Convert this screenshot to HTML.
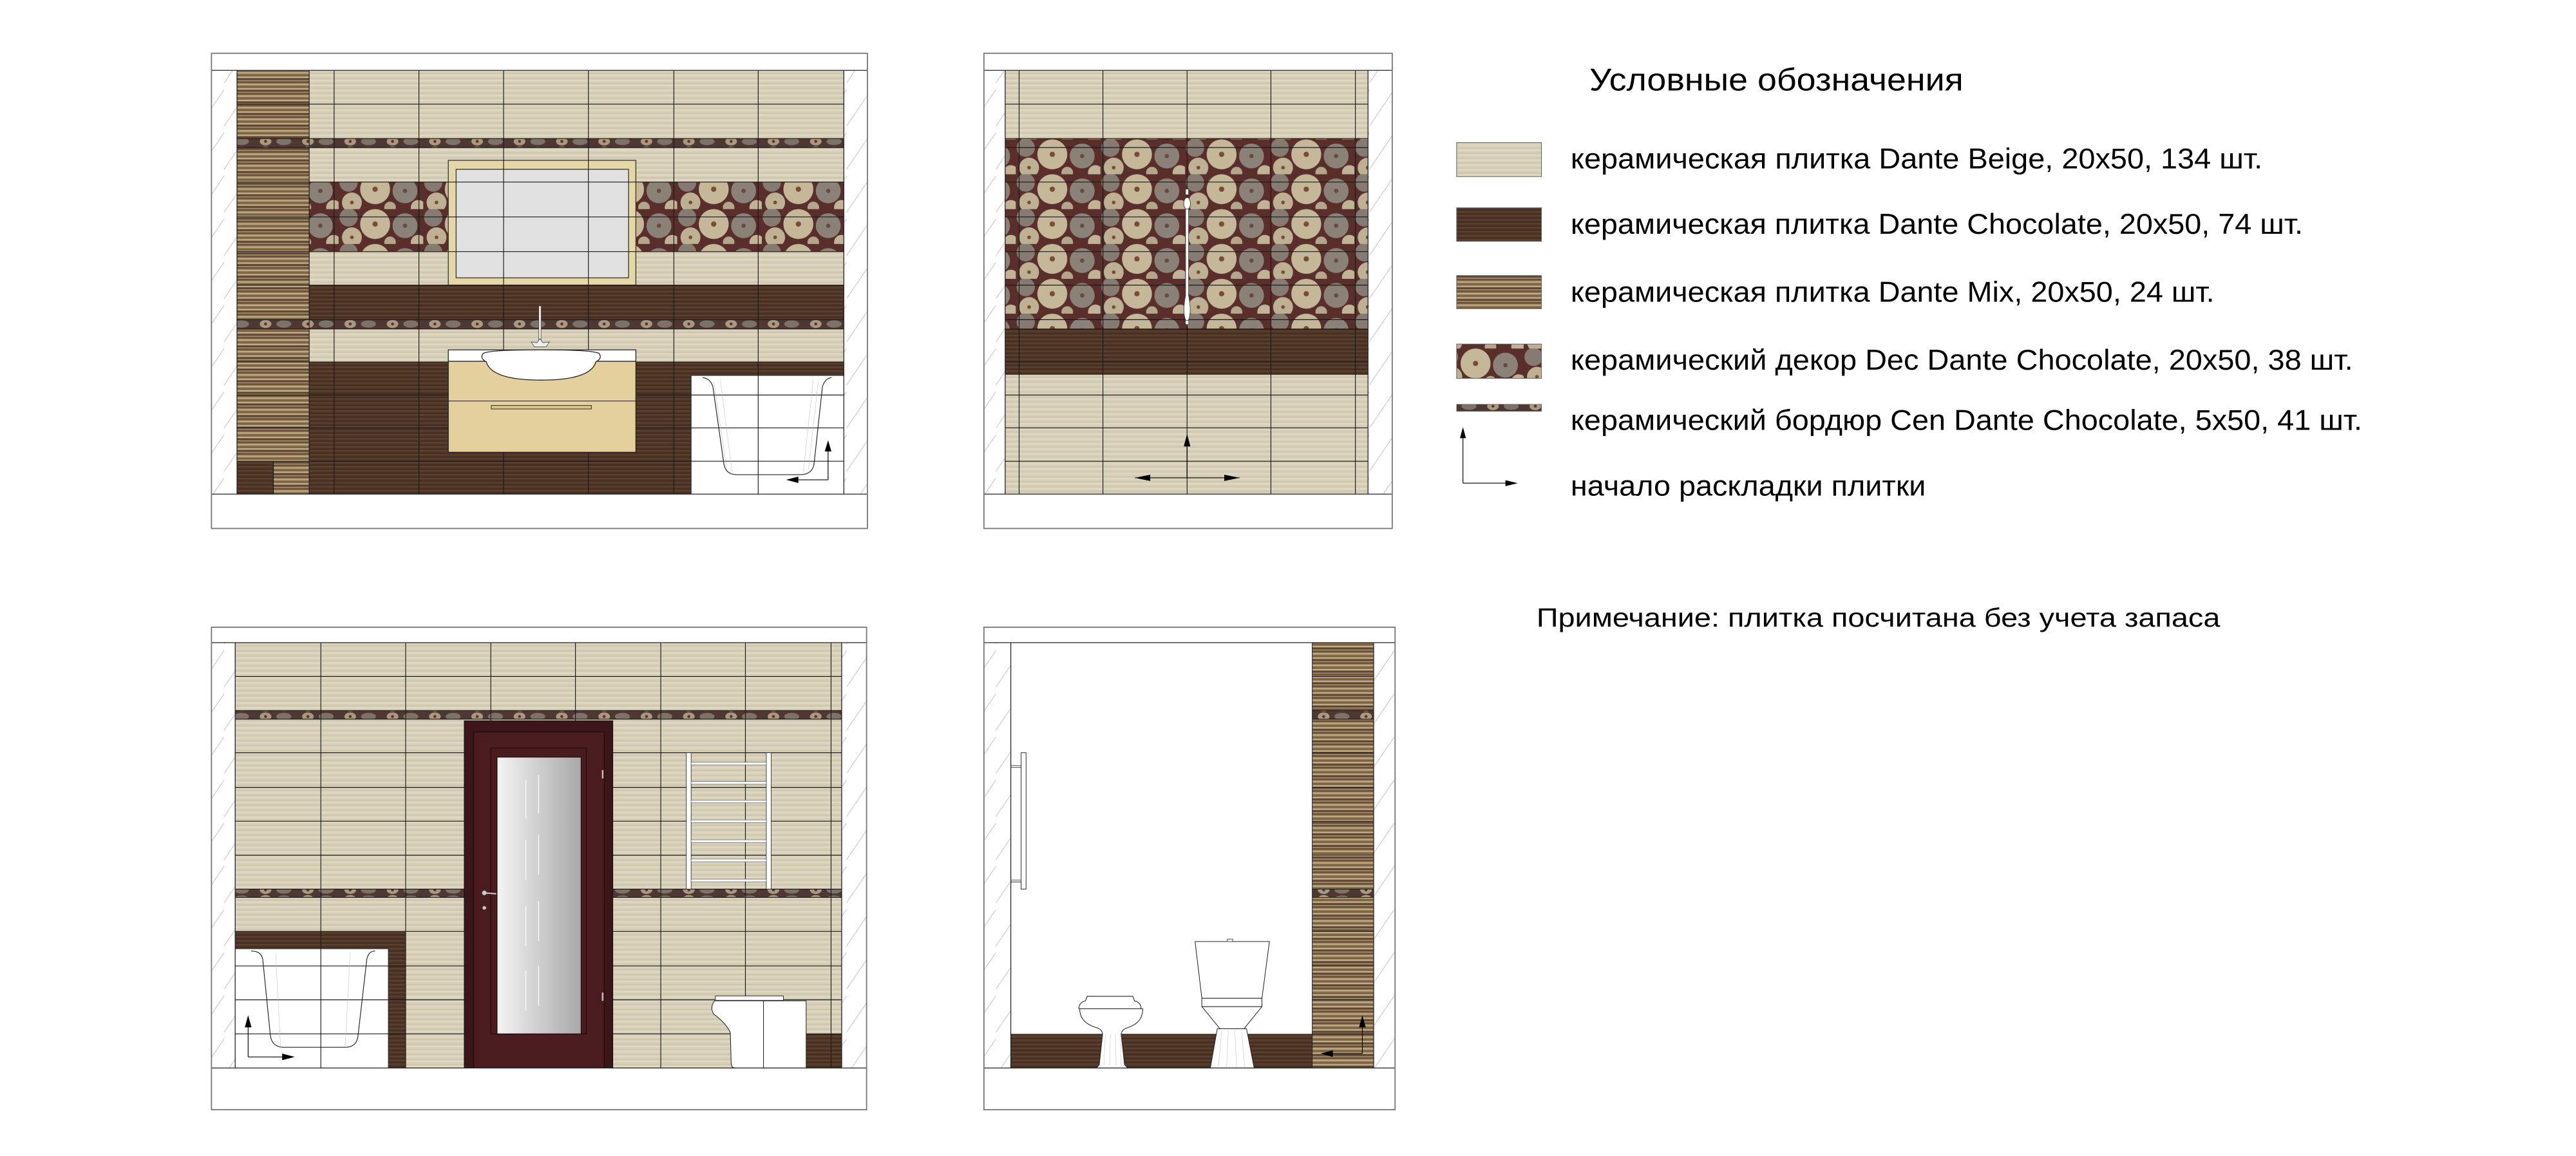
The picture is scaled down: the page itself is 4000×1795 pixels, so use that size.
<!DOCTYPE html>
<html><head><meta charset="utf-8"><style>
html,body{margin:0;padding:0;background:#fff;}
svg{display:block;}
text{font-family:"Liberation Sans","Noto Sans CJK SC",sans-serif;fill:#000;}
</style></head><body>
<svg xmlns="http://www.w3.org/2000/svg" width="4000" height="1795" viewBox="0 0 1552 696.5" preserveAspectRatio="none">
<defs>
<pattern id="beige" patternUnits="userSpaceOnUse" width="10" height="3">
<rect width="10" height="3" fill="#d6cfb6"/><rect y="0" width="10" height="1" fill="#ddd7c3"/><rect y="2" width="10" height="0.5" fill="#cbc4aa"/></pattern>
<pattern id="choc" patternUnits="userSpaceOnUse" width="10" height="2.4">
<rect width="10" height="2.4" fill="#4e3526"/><rect width="10" height="0.8" fill="#5a4030"/><rect y="1.6" width="10" height="0.4" fill="#3e2819"/></pattern>
<pattern id="mix" patternUnits="userSpaceOnUse" width="10" height="7">
<rect width="10" height="7" fill="#937b5b"/><rect y="0" width="10" height="1" fill="#6a5136"/><rect y="1.5" width="10" height="0.8" fill="#bfae8a"/><rect y="2.8" width="10" height="1" fill="#7d623d"/><rect y="4.2" width="10" height="0.6" fill="#c8bb9a"/><rect y="5.2" width="10" height="1" fill="#5a4330"/><rect y="6.4" width="10" height="0.6" fill="#a08868"/></pattern>
<pattern id="decor" patternUnits="userSpaceOnUse" width="51" height="21" x="0" y="0">
<rect width="51" height="21" fill="#5a2e2b"/>
<circle cx="6" cy="5" r="5.5" fill="#857b72"/>
<circle cx="40" cy="10" r="7.5" fill="#8a8279"/>
<circle cx="22" cy="9" r="9" fill="#c4b898"/>
<circle cx="8" cy="17" r="6" fill="#bdb093"/>
<circle cx="48" cy="20" r="4.5" fill="#c0b396"/>
<circle cx="31" cy="20" r="3.5" fill="#b3a68a"/>
<circle cx="22" cy="9" r="1.6" fill="#7a4a3a"/><circle cx="40" cy="10" r="1.3" fill="#6a4a40"/><circle cx="8" cy="17" r="1.1" fill="#7a4a3a"/></pattern>
<pattern id="border" patternUnits="userSpaceOnUse" width="25.5" height="5.5">
<rect width="25.5" height="5.5" fill="#4f3833"/><ellipse cx="7" cy="2.7" rx="3.5" ry="2.4" fill="#a89a80"/><ellipse cx="18" cy="2.7" rx="4.5" ry="2.2" fill="#7e7268"/><circle cx="7" cy="2.7" r="0.9" fill="#6b2e25"/></pattern>
<pattern id="hatch" patternUnits="userSpaceOnUse" width="15" height="26">
<line x1="0" y1="24" x2="15" y2="2" stroke="#bdbdbd" stroke-width="0.35"/></pattern>
<linearGradient id="glass" x1="0" y1="0" x2="1" y2="0"><stop offset="0" stop-color="#f4f4f4"/><stop offset="1" stop-color="#a8a8a8"/></linearGradient>
</defs>

<!-- ============ TOP LEFT ============ -->
<rect x="127.4" y="32.1" width="395.2" height="286.3" fill="#fff"/>
<rect x="127.4" y="42.4" width="15.4" height="255.3" fill="url(#hatch)"/>
<rect x="508.4" y="42.4" width="14.2" height="255.3" fill="url(#hatch)"/>
<rect x="142.8" y="42.6" width="365.6" height="255.1" fill="url(#beige)"/>
<rect x="186.3" y="171.8" width="322.1" height="20.8" fill="url(#choc)"/>
<rect x="186.3" y="218.1" width="322.1" height="79.6" fill="url(#choc)"/>
<rect x="186.3" y="109.7" width="322.1" height="41.9" fill="url(#decor)"/>
<rect x="142.8" y="42.6" width="43.5" height="255.1" fill="url(#mix)"/>
<rect x="142.8" y="277.9" width="21.9" height="19.8" fill="url(#choc)"/>
<rect x="142.8" y="83.5" width="365.6" height="5.4" fill="url(#border)"/>
<rect x="142.8" y="192.6" width="365.6" height="5.6" fill="url(#border)"/>
<rect x="270.1" y="96.6" width="113" height="75.2" fill="#e6d7a6" stroke="#333" stroke-width="0.5"/>
<rect x="274.8" y="102" width="103.9" height="65.4" fill="#e1e1e1" stroke="#333" stroke-width="0.5"/>
<rect x="416.4" y="226.2" width="92" height="71.5" fill="#fff"/>
<path d="M186.3 42.6V297.7M201.3 42.6V297.7M252.4 42.6V297.7M303.4 42.6V297.7M354.5 42.6V297.7M406 42.6V297.7M456.8 42.6V297.7M164.7 277.9V297.7
M142.8 62.8H508.4M142.8 83.5H508.4M142.8 88.9H508.4M142.8 109.7H508.4M142.8 130.7H508.4M142.8 151.6H508.4M142.8 171.8H508.4M142.8 192.6H508.4M142.8 198.2H508.4M142.8 218.1H508.4M142.8 238H508.4M142.8 257.8H508.4M142.8 277.9H508.4" stroke="#1a1a1a" stroke-width="0.45" fill="none"/>
<path d="M416.4 226.2H508.4M416.4 226.2V297.7" stroke="#222" stroke-width="0.4" fill="none"/>
<path d="M423.3 227.5Q428 228 429.5 233L436.2 280Q437.5 286 444 286L482 286Q489 286 490.4 280L495.5 233Q497 228 501 227.5" stroke="#222" stroke-width="0.45" fill="none"/>
<path d="M430 230L438 283M434 229L441 284M490 229L484 284M493 230L487 283" stroke="#bbb" stroke-width="0.2" fill="none"/>
<rect x="270.1" y="210.8" width="113" height="6.9" fill="#fff" stroke="#222" stroke-width="0.5"/>
<rect x="270.1" y="217.7" width="113" height="54.8" fill="#e4d09c" stroke="#222" stroke-width="0.5"/>
<line x1="270.1" y1="241.6" x2="383.1" y2="241.6" stroke="#333" stroke-width="0.45"/>
<rect x="296" y="244.3" width="60.3" height="2.1" fill="#d8c48e" stroke="#333" stroke-width="0.4"/>
<path d="M291 213Q289 216 293 218Q296 229 326 229Q356 229 359 218Q363 216 361 213Q358 210.8 326 210.8Q294 210.8 291 213Z" fill="#fff" stroke="#222" stroke-width="0.5"/>
<rect x="324.6" y="184.3" width="1.4" height="21" fill="#eee" stroke="#444" stroke-width="0.3"/>
<path d="M320 206L322 209L329 209L331 206L327 206.5L325.3 204L323.6 206.5Z" fill="#eee" stroke="#444" stroke-width="0.3"/>
<line x1="498.9" y1="289.1" x2="498.9" y2="271" stroke="#000" stroke-width="0.45"/>
<polygon points="498.9,265.3 496.9,272 500.9,272" fill="#000"/>
<line x1="498.9" y1="289.1" x2="478" y2="289.1" stroke="#000" stroke-width="0.45"/>
<polygon points="473.6,289.1 481,287.2 481,291" fill="#000"/>
<line x1="142.8" y1="42.4" x2="142.8" y2="297.7" stroke="#222" stroke-width="0.5"/>
<line x1="508.4" y1="42.4" x2="508.4" y2="297.7" stroke="#222" stroke-width="0.5"/>
<line x1="127.4" y1="42.4" x2="522.6" y2="42.4" stroke="#222" stroke-width="0.5"/>
<line x1="127.4" y1="297.7" x2="522.6" y2="297.7" stroke="#222" stroke-width="0.5"/>
<rect x="127.4" y="32.1" width="395.2" height="286.3" fill="none" stroke="#777" stroke-width="0.7"/>

<!-- ============ TOP RIGHT ============ -->
<rect x="592.8" y="32.1" width="246" height="286.3" fill="#fff"/>
<rect x="592.8" y="42.4" width="12.8" height="255.3" fill="url(#hatch)"/>
<rect x="824.2" y="42.4" width="14.6" height="255.3" fill="url(#hatch)"/>
<rect x="605.6" y="42.6" width="218.6" height="255.1" fill="url(#beige)"/>
<rect x="605.6" y="83.5" width="218.6" height="114.7" fill="url(#decor)"/>
<rect x="605.6" y="198.2" width="218.6" height="27.6" fill="url(#choc)"/>
<path d="M614 42.6V297.7M664.5 42.6V297.7M715.2 42.6V297.7M765.7 42.6V297.7M816.6 42.6V297.7
M605.6 62.8H824.2M605.6 83.5H824.2M605.6 88.9H824.2M605.6 109.7H824.2M605.6 130.7H824.2M605.6 151.6H824.2M605.6 171.8H824.2M605.6 192.6H824.2M605.6 198.2H824.2M605.6 218.1H824.2M605.6 238H824.2M605.6 257.8H824.2M605.6 277.9H824.2" stroke="#1a1a1a" stroke-width="0.45" fill="none"/>
<rect x="714.3" y="113.9" width="1.8" height="3.5" fill="#fff" stroke="#333" stroke-width="0.3"/>
<ellipse cx="715.2" cy="122.6" rx="2" ry="3.6" fill="#fff" stroke="#333" stroke-width="0.35"/>
<path d="M714.3 126L714.3 178Q712.3 188 714.4 193L716 193Q718.1 188 716.1 178L716.1 126Z" fill="#fff" stroke="#333" stroke-width="0.3"/>
<rect x="714.2" y="193" width="2" height="2.5" fill="#fff" stroke="#333" stroke-width="0.3"/>
<line x1="715.2" y1="287.9" x2="715.2" y2="268" stroke="#000" stroke-width="0.45"/>
<polygon points="715.2,261.5 713.2,269 717.2,269" fill="#000"/>
<line x1="683.8" y1="287.9" x2="746.8" y2="287.9" stroke="#000" stroke-width="0.45"/>
<polygon points="683.8,287.9 693,286 693,289.8" fill="#000"/>
<polygon points="746.8,287.9 737.6,286 737.6,289.8" fill="#000"/>
<line x1="605.6" y1="42.4" x2="605.6" y2="297.7" stroke="#222" stroke-width="0.5"/>
<line x1="824.2" y1="42.4" x2="824.2" y2="297.7" stroke="#222" stroke-width="0.5"/>
<line x1="592.8" y1="42.4" x2="838.8" y2="42.4" stroke="#222" stroke-width="0.5"/>
<line x1="592.8" y1="297.7" x2="838.8" y2="297.7" stroke="#222" stroke-width="0.5"/>
<rect x="592.8" y="32.1" width="246" height="286.3" fill="none" stroke="#777" stroke-width="0.7"/>

<!-- ============ BOTTOM LEFT ============ -->
<rect x="127.4" y="377.9" width="394.7" height="290.7" fill="#fff"/>
<rect x="127.4" y="387.2" width="14.3" height="256.3" fill="url(#hatch)"/>
<rect x="507.1" y="387.2" width="15" height="256.3" fill="url(#hatch)"/>
<rect x="141.7" y="387.2" width="365.4" height="256.3" fill="url(#beige)"/>
<rect x="141.7" y="428.1" width="365.4" height="5.2" fill="url(#border)"/>
<rect x="141.7" y="535.7" width="365.4" height="5" fill="url(#border)"/>
<rect x="141.7" y="561.2" width="102.7" height="82.3" fill="url(#choc)"/>
<rect x="141.7" y="571.6" width="92.3" height="71.9" fill="#fff"/>
<rect x="485.7" y="622.9" width="21.4" height="20.6" fill="url(#choc)"/>
<path d="M193.3 387.2V643.5M244.4 387.2V643.5M295.7 387.2V643.5M346.7 387.2V643.5M398.1 387.2V643.5M449.1 387.2V643.5M500.7 387.2V643.5
M141.7 407.6H507.1M141.7 428.1H507.1M141.7 433.3H507.1M141.7 453.5H507.1M141.7 474.4H507.1M141.7 494.8H507.1M141.7 515.3H507.1M141.7 535.7H507.1M141.7 540.7H507.1M141.7 561.2H507.1M141.7 582H507.1M141.7 602.4H507.1M141.7 622.9H507.1" stroke="#1a1a1a" stroke-width="0.45" fill="none"/>
<path d="M141.7 571.6H234V643.5" stroke="#222" stroke-width="0.4" fill="none"/>
<path d="M151.3 573Q157.5 573 158.3 578L162.9 624Q164 631 171 631L208 631Q215 631 215.7 624L221 578Q222 573 226 573" stroke="#222" stroke-width="0.45" fill="none"/>
<path d="M166 574L169 630M211 574L208 630" stroke="#bbb" stroke-width="0.2" fill="none"/>
<line x1="149.5" y1="636.8" x2="149.5" y2="618" stroke="#000" stroke-width="0.45"/>
<polygon points="149.5,611.7 147.5,619 151.5,619" fill="#000"/>
<line x1="149.5" y1="636.8" x2="171" y2="636.8" stroke="#000" stroke-width="0.45"/>
<polygon points="177.6,636.8 170,634.8 170,638.8" fill="#000"/>
<rect x="279.7" y="434.3" width="89.5" height="209.2" fill="#3b1518" stroke="#111" stroke-width="0.4"/>
<rect x="285.4" y="441" width="78.6" height="202.5" fill="#4a1c20" stroke="#1a0808" stroke-width="0.4"/>
<rect x="295.7" y="450.7" width="57.5" height="172.2" fill="none" stroke="#1a0808" stroke-width="0.4"/>
<rect x="299.5" y="456.2" width="50.6" height="166.7" fill="url(#glass)" stroke="#1a0808" stroke-width="0.4"/>
<path d="M316.8 470V493M324.5 467V490M316.8 506V530M324.5 503V527M316.8 546V570M324.5 543V567M316.8 585V609M324.5 582V606" stroke="#fff" stroke-width="0.6" opacity="0.8"/>
<circle cx="291.8" cy="538" r="1.4" fill="#ccc" stroke="#666" stroke-width="0.2"/>
<line x1="291.8" y1="538" x2="299" y2="538.5" stroke="#ccc" stroke-width="0.8"/>
<circle cx="291.8" cy="547" r="1.1" fill="#ccc" stroke="#666" stroke-width="0.2"/>
<rect x="362.6" y="464" width="1" height="5" fill="#bbb"/>
<rect x="362.6" y="598" width="1" height="5" fill="#bbb"/>
<rect x="413.5" y="453.5" width="2.9" height="82.2" fill="#fff" stroke="#333" stroke-width="0.35"/>
<rect x="461.7" y="453.5" width="2.9" height="82.2" fill="#fff" stroke="#333" stroke-width="0.35"/>
<g fill="#fff" stroke="#555" stroke-width="0.25">
<rect x="416.4" y="459.3" width="45.3" height="1.6"/><rect x="416.4" y="470.9" width="45.3" height="1.6"/><rect x="416.4" y="482.1" width="45.3" height="1.6"/><rect x="416.4" y="494" width="45.3" height="1.6"/><rect x="416.4" y="506" width="45.3" height="1.6"/><rect x="416.4" y="517.6" width="45.3" height="1.6"/><rect x="416.4" y="529.7" width="45.3" height="1.6"/></g>
<rect x="441.4" y="603" width="44.3" height="40.5" fill="#fff" stroke="#222" stroke-width="0.4"/>
<rect x="431" y="600.1" width="41" height="2.6" fill="#fff" stroke="#222" stroke-width="0.35"/>
<path d="M430.5 603Q427.5 607 430 611Q437 616 440 622L440.5 640Q440.5 643.5 443 643.5L460 643.5L460 603Z" fill="#fff" stroke="#222" stroke-width="0.4"/>
<line x1="141.7" y1="387.2" x2="141.7" y2="643.5" stroke="#222" stroke-width="0.5"/>
<line x1="507.1" y1="387.2" x2="507.1" y2="643.5" stroke="#222" stroke-width="0.5"/>
<line x1="127.4" y1="387.2" x2="522.1" y2="387.2" stroke="#222" stroke-width="0.5"/>
<line x1="127.4" y1="643.5" x2="522.1" y2="643.5" stroke="#222" stroke-width="0.5"/>
<rect x="127.4" y="377.9" width="394.7" height="290.7" fill="none" stroke="#777" stroke-width="0.7"/>

<!-- ============ BOTTOM RIGHT ============ -->
<rect x="592.8" y="377.9" width="247.7" height="290.7" fill="#fff"/>
<rect x="592.8" y="387.2" width="16.2" height="256.3" fill="url(#hatch)"/>
<rect x="827.6" y="387.2" width="12.9" height="256.3" fill="url(#hatch)"/>
<rect x="609" y="622.9" width="181.6" height="20.6" fill="url(#choc)"/>
<rect x="790.6" y="387.2" width="37" height="256.3" fill="url(#mix)"/>
<rect x="790.6" y="428.1" width="37" height="5.2" fill="url(#border)"/>
<rect x="790.6" y="535.7" width="37" height="5" fill="url(#border)"/>
<path d="M790.6 407.6H827.6M790.6 428.1H827.6M790.6 433.3H827.6M790.6 453.5H827.6M790.6 474.4H827.6M790.6 494.8H827.6M790.6 515.3H827.6M790.6 535.7H827.6M790.6 540.7H827.6M790.6 561.2H827.6M790.6 582H827.6M790.6 602.4H827.6M790.6 622.9H827.6" stroke="#1a1a1a" stroke-width="0.4" fill="none"/>
<line x1="609" y1="387.2" x2="609" y2="643.5" stroke="#222" stroke-width="0.5"/>
<line x1="790.6" y1="387.2" x2="790.6" y2="643.5" stroke="#222" stroke-width="0.4"/>
<line x1="827.6" y1="387.2" x2="827.6" y2="643.5" stroke="#222" stroke-width="0.5"/>
<rect x="615.2" y="453.5" width="3" height="82.2" fill="#fff" stroke="#333" stroke-width="0.4"/>
<path d="M609 461.3H615.2M609 462.4H615.2M609 530.3H615.2M609 531.4H615.2" stroke="#333" stroke-width="0.35"/>
<path d="M655 600.3L682.5 600.3L683.5 603Q687.5 604 687.5 607.8L650 607.8Q650 604 654 603Z" fill="#fff" stroke="#222" stroke-width="0.4"/>
<path d="M650.5 607.8Q650.5 616 660 619Q664 620 664.3 623L662.3 641.5L660.5 643.5L679.5 643.5L677.5 641.5L675.5 623Q676 620 680 619Q688.5 616 688.5 607.8Z" fill="#fff" stroke="#222" stroke-width="0.4"/>
<path d="M666 623L665 642M669 623L668.5 642M672 623L672.5 642M675 623L675.5 642" stroke="#bbb" stroke-width="0.2"/>
<polygon points="720,567.3 764.8,567.3 760.3,601.5 724.1,601.5" fill="#fff" stroke="#222" stroke-width="0.4"/>
<rect x="739.5" y="565.8" width="3.2" height="1.5" fill="#fff" stroke="#222" stroke-width="0.3"/>
<rect x="724.1" y="601.5" width="36.2" height="5" fill="#fff" stroke="#222" stroke-width="0.4"/>
<polygon points="724.1,606.5 760.3,606.5 749.5,619.8 735,619.8" fill="#fff" stroke="#222" stroke-width="0.4"/>
<polygon points="733.4,619.8 751,619.8 755.6,643.5 729.2,643.5" fill="#fff" stroke="#222" stroke-width="0.4"/>
<path d="M736 621L734 643M740 621L739 643M744 621L745 643M748 621L750 643" stroke="#bbb" stroke-width="0.2"/>
<line x1="820.8" y1="634.8" x2="820.8" y2="618" stroke="#000" stroke-width="0.45"/>
<polygon points="820.8,611.7 818.8,619 822.8,619" fill="#000"/>
<line x1="820.8" y1="634.8" x2="801" y2="634.8" stroke="#000" stroke-width="0.45"/>
<polygon points="795.6,634.8 803,632.8 803,636.8" fill="#000"/>
<line x1="592.8" y1="387.2" x2="840.5" y2="387.2" stroke="#222" stroke-width="0.5"/>
<line x1="592.8" y1="643.5" x2="840.5" y2="643.5" stroke="#222" stroke-width="0.5"/>
<rect x="592.8" y="377.9" width="247.7" height="290.7" fill="none" stroke="#777" stroke-width="0.7"/>

<!-- ============ LEGEND ============ -->
<text x="957.6" y="54.6" font-size="19" textLength="225.3" lengthAdjust="spacingAndGlyphs">Условные обозначения</text>
<rect x="877.6" y="85.9" width="51.1" height="20.5" fill="url(#beige)" stroke="#666" stroke-width="0.4"/>
<rect x="877.6" y="125.2" width="51.1" height="20.2" fill="url(#choc)" stroke="#666" stroke-width="0.4"/>
<rect x="877.6" y="166" width="51.1" height="20" fill="url(#mix)" stroke="#666" stroke-width="0.4"/>
<rect x="877.6" y="207.3" width="51.1" height="20.7" fill="url(#decor)" stroke="#666" stroke-width="0.4"/>
<rect x="877.6" y="243.6" width="51.1" height="4.2" fill="url(#border)" stroke="#666" stroke-width="0.3"/>
<text x="946.3" y="101.4" font-size="17.2" textLength="416.8" lengthAdjust="spacingAndGlyphs">керамическая плитка Dante Beige, 20x50, 134 шт.</text>
<text x="946.3" y="140.9" font-size="17.2" textLength="441.2" lengthAdjust="spacingAndGlyphs">керамическая плитка Dante Chocolate, 20x50, 74 шт.</text>
<text x="946.3" y="181.7" font-size="17.2" textLength="387.9" lengthAdjust="spacingAndGlyphs">керамическая плитка Dante Mix, 20x50, 24 шт.</text>
<text x="946.3" y="222.8" font-size="17.2" textLength="471.3" lengthAdjust="spacingAndGlyphs">керамический декор Dec Dante Chocolate, 20x50, 38 шт.</text>
<text x="946.3" y="259.1" font-size="17.2" textLength="476.9" lengthAdjust="spacingAndGlyphs">керамический бордюр Cen Dante Chocolate, 5x50, 41 шт.</text>
<text x="946.3" y="298.6" font-size="17.2" textLength="214" lengthAdjust="spacingAndGlyphs">начало раскладки плитки</text>
<line x1="881.4" y1="291.1" x2="881.4" y2="263" stroke="#000" stroke-width="0.45"/>
<polygon points="881.4,257.3 879.6,264 883.2,264" fill="#000"/>
<line x1="881.4" y1="291.1" x2="908" y2="291.1" stroke="#000" stroke-width="0.45"/>
<polygon points="914.4,291.1 907,289.3 907,292.9" fill="#000"/>
<text x="925.7" y="377.5" font-size="16" textLength="411.9" lengthAdjust="spacingAndGlyphs">Примечание: плитка посчитана без учета запаса</text>
</svg>
</body></html>
